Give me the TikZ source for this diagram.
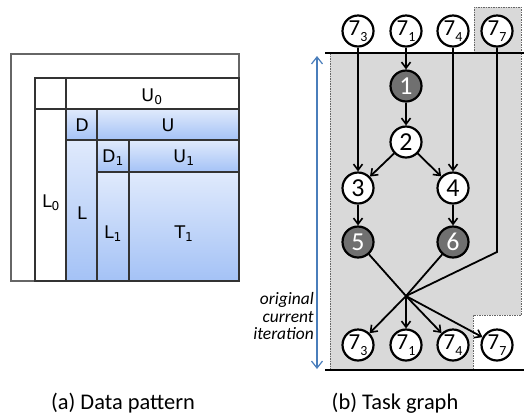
\documentclass[tikz,border=0pt]{standalone}
\usepackage{fontspec}
\setmainfont{Carlito}
\newfontfamily\matfont{DejaVu Sans}
\usetikzlibrary{arrows.meta}

\definecolor{cellTop}{HTML}{E0EAFC}
\definecolor{cellBot}{HTML}{A4C2F6}
\definecolor{gridLine}{HTML}{333333}
\definecolor{regionFill}{HTML}{D9D9D9}
\definecolor{regionEdge}{HTML}{666666}
\definecolor{darkTask}{HTML}{707070}
\definecolor{iterBlue}{HTML}{4A7EBB}

\tikzset{
  cellline/.style={draw=gridLine, line width=1.2bp},
  blockcell/.style={cellline, top color=cellTop, bottom color=cellBot},
  plaincell/.style={cellline, fill=white},
  matlabel/.style={font=\matfont\fontsize{17.5}{17.5}\selectfont, inner sep=0},
  region/.style={fill=regionFill},
  regionborder/.style={draw=regionEdge, line width=0.8bp, dash pattern=on 1.5bp off 1bp},
  task/.style={circle, draw, line width=2.2bp, minimum size=31bp, inner sep=0,
    fill=white, font=\fontsize{26}{26}\selectfont},
  darktask/.style={task, fill=darkTask, text=white},
  seven/.style={task, font=\fontsize{23}{23}\selectfont},
  edge/.style={line width=1.8bp},
  arr/.style={edge, -{Straight Barb[length=6bp, width=9bp, line width=1.6bp]}},
  barline/.style={line width=2.6bp},
  iterarrow/.style={draw=iterBlue, line width=1.2bp,
    {Straight Barb[length=7bp, width=11bp]}-{Straight Barb[length=7bp, width=11bp]}},
  caption/.style={font=\fontsize{22.5}{22.5}\selectfont}
}
\newcommand{\sevensub}[1]{7\raisebox{-6bp}{\fontsize{14}{14}\selectfont #1}}

\begin{document}
\begin{tikzpicture}[x=1bp, y=-1bp]
\useasboundingbox (0,0) rectangle (524,416);

% ---------- (a) data pattern ----------
\draw[plaincell, draw=gray!80!black] (11,54) rectangle (239,281);
\draw[plaincell] (35,78) rectangle (239,281);
\draw[plaincell] (66,78) rectangle (239,109);
\draw[plaincell] (35,109) rectangle (66,281);
\draw[blockcell] (66,109) rectangle (97,140);
\draw[blockcell] (97,109) rectangle (239,140);
\draw[blockcell] (66,140) rectangle (97,281);
\draw[blockcell] (97,140) rectangle (129,172);
\draw[blockcell] (129,140) rectangle (239,172);
\draw[blockcell] (97,172) rectangle (129,281);
\draw[blockcell] (129,172) rectangle (239,281);

\node[matlabel] (lU0) at (152,97) {U\textsubscript{0}};
\node[matlabel] (lL0) at (51,203) {L\textsubscript{0}};
\node[matlabel] (lD)  at (82,125) {D};
\node[matlabel] (lU)  at (168,125) {U};
\node[matlabel] (lL)  at (82,213) {L};
\node[matlabel] (lD1) at (113,158) {D\textsubscript{1}};
\node[matlabel] (lU1) at (184,158) {U\textsubscript{1}};
\node[matlabel] (lL1) at (113,234) {L\textsubscript{1}};
\node[matlabel] (lT1) at (184,234) {T\textsubscript{1}};

\node[caption] (capA) at (123,403) {(a) Data pattern};

% ---------- (b) task graph ----------
% shaded region of the current iteration
\fill[region] (330,53) -- (521,53) -- (521,315) -- (473,315) -- (473,370) -- (330,370) -- cycle;
\draw[regionborder] (330,53) -- (330,370);
\draw[regionborder] (521,53) -- (521,315) -- (473,315) -- (473,370);
\fill[region] (474,7) rectangle (521,53);
\draw[regionborder] (474,53) -- (474,7) -- (521,7) -- (521,53);

% iteration boundaries
\draw[barline] (325,53) -- (524,53);
\draw[barline] (325,370) -- (524,370);

% tasks
\node[seven] (t3) at (358,31) {\sevensub{3}};
\node[seven] (t1) at (406,31) {\sevensub{1}};
\node[seven] (t4) at (453,31) {\sevensub{4}};
\node[seven] (t7) at (497,31) {\sevensub{7}};

\node[darktask] (n1) at (406,86) {1};
\node[task]     (n2) at (406,142) {2};
\node[task]     (n3) at (358,188) {3};
\node[task]     (n4) at (453,188) {4};
\node[darktask] (n5) at (358,242) {5};
\node[darktask] (n6) at (453,242) {6};

\node[seven] (b3) at (358,345) {\sevensub{3}};
\node[seven] (b1) at (406,345) {\sevensub{1}};
\node[seven] (b4) at (453,345) {\sevensub{4}};
\node[seven] (b7) at (497,345) {\sevensub{7}};

\coordinate (m) at (406,296);
\coordinate (k) at (497,252);

% dependencies
\draw[arr] (t3) -- (n3);
\draw[arr] (t1) -- (n1);
\draw[arr] (t4) -- (n4);
\draw[arr] (n1) -- (n2);
\draw[arr] (n2) -- (n3);
\draw[arr] (n2) -- (n4);
\draw[arr] (n3) -- (n5);
\draw[arr] (n4) -- (n6);
\draw[edge] (n5) -- (m);
\draw[edge] (n6) -- (m);
\draw[edge] (t7) -- (k) -- (m);
\draw[arr] (m) -- (b3);
\draw[arr] (m) -- (b1);
\draw[arr] (m) -- (b4);
\draw[arr] (m) -- (b7);

% iteration span
\coordinate (iterTop) at (317,56);
\coordinate (iterBot) at (317,369);
\draw[iterarrow] (iterTop) -- (iterBot);
\node[anchor=east, align=right, font=\fontsize{17.5}{18}\selectfont\itshape, inner sep=0]
  (iterText) at (314,316) {original\\current\\iteration};

\node[caption] (capB) at (395,403) {(b) Task graph};
\end{tikzpicture}
\end{document}
